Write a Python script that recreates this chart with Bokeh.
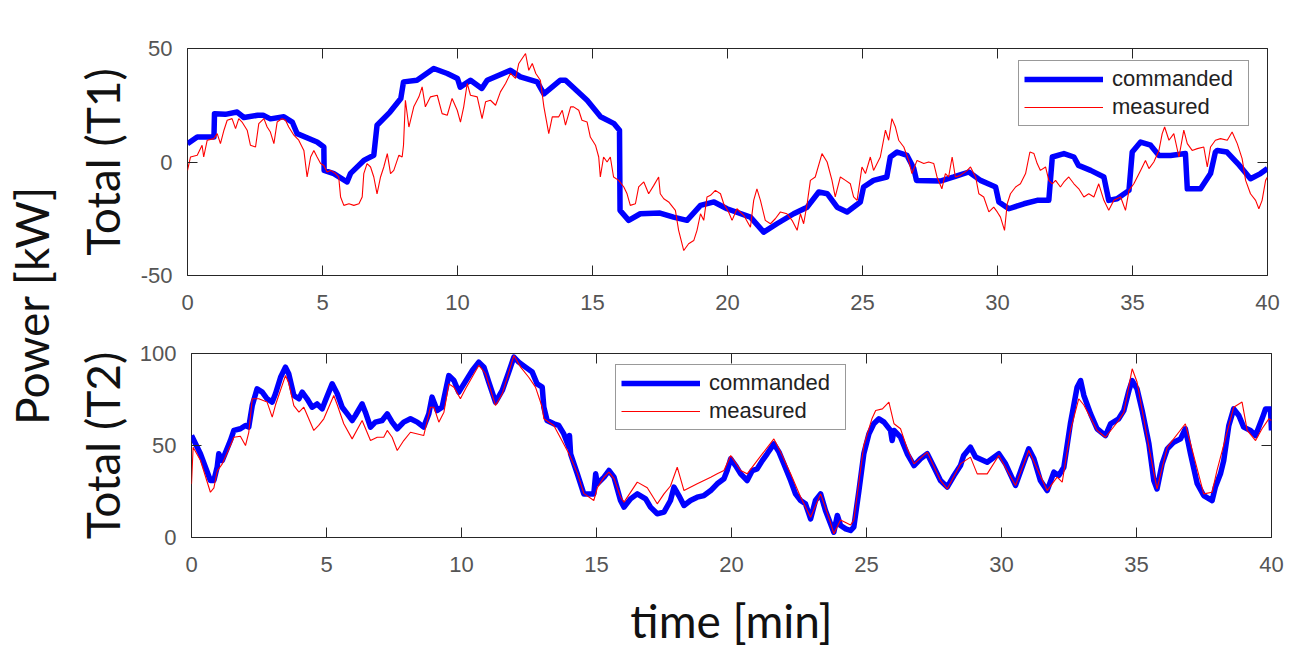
import math
from bokeh.plotting import figure
from bokeh.layouts import row, column
from bokeh.models import Range1d, LinearAxis, FixedTicker, Legend, LegendItem, Label
from bokeh.embed import file_html
from bokeh.resources import INLINE

# ---------------- data ----------------
x_ticks = [0, 5, 10, 15, 20, 25, 30, 35, 40]
t1_ticks = [-50, 0, 50]
t2_ticks = [0, 50, 100]
series_names = ["commanded", "measured"]

t1_cmd_t = [0, 0.36, 0.98, 1.0, 1.4, 1.84, 2.09, 2.6, 2.8, 3.07, 3.57, 3.88, 4.06, 4.8, 5.05, 5.06,
            5.42, 5.91, 6.04, 6.53, 6.9, 7.02, 7.5, 7.9, 8.0, 8.5, 9.12, 9.62, 10.0, 10.1, 10.48,
            10.9, 11.1, 11.96, 12.33, 12.95, 13.2, 13.8, 14.0, 14.8, 15.3, 15.8, 16.0, 16.02, 16.34,
            16.77, 17.5, 18.0, 18.5, 19.0, 19.5, 19.98, 20.85, 21.34, 21.83, 22.45, 22.95, 23.38,
            23.7, 24.06, 24.43, 24.92, 25.04, 25.41, 25.9, 26.03, 26.28, 26.65, 26.9, 27.0, 27.88,
            28.38, 28.94, 29.37, 29.93, 30.05, 30.42, 30.98, 31.47, 31.9, 32.03, 32.46, 32.83, 33.0,
            33.45, 33.94, 34.12, 34.43, 34.87, 34.99, 35.3, 35.67, 35.98, 36.41, 36.96, 37.03, 37.52,
            37.89, 38.07, 38.14, 38.5, 38.9, 39.37, 39.74, 40.0]
t1_cmd_v = [8.1, 11, 11, 21.3, 21, 22, 19.6, 20.6, 20.6, 19, 19.9, 17.6, 12.5, 8.8, 6.6, -3.7,
            -5.1, -8.8, -5, 0.7, 3, 16.2, 22, 28, 35.3, 36, 41.2, 39, 36.8, 33, 36,
            32.4, 36, 40.4, 37.5, 35.3, 30, 36, 36, 27.2, 19.9, 16.9, 14, -21.3, -25.7,
            -22.8, -22.5, -24.3, -25.7, -19.1, -17.6, -20.6, -24.3, -30.9, -27.2, -22.8, -19.9, -13.2,
            -14, -19.9, -22, -17.6, -11, -8.1, -6.6, 2.2, 4.4, 2.9, -2.9, -8.1, -8.4,
            -6.6, -4.4, -8.1, -11, -17.6, -20.6, -18.4, -16.9, -16.9, 2.2, 3.7, 2.2, -1.5,
            -3.7, -6.6, -16.9, -16.2, -12.5, 4.4, 8.8, 7.4, 2.9, 2.9, 3.7, -11.8, -11.8,
            -5.1, 4.4, 5.1, 4.4, -0.7, -7.4, -5.1, -2.9]

t1_meas_t = [0, 0.11, 0.36, 0.54, 0.6, 0.73, 0.98, 1.1, 1.22, 1.35, 1.47, 1.65, 1.78, 1.9, 2.02,
             2.21, 2.33, 2.52, 2.64, 2.83, 2.95, 3.07, 3.2, 3.32, 3.5, 3.63, 3.75, 3.94, 4.12, 4.31,
             4.43, 4.56, 4.68, 4.8, 4.93, 5.05, 5.17, 5.3, 5.48, 5.6, 5.67, 5.79, 5.98, 6.16, 6.35,
             6.47, 6.53, 6.65, 6.78, 6.9, 7.02, 7.15, 7.27, 7.4, 7.52, 7.64, 7.83, 7.95, 8.0, 8.07,
             8.2, 8.38, 8.57, 8.69, 8.81, 9.0, 9.25, 9.43, 9.62, 9.8, 9.99, 10.11, 10.23, 10.36,
             10.48, 10.73, 10.91, 11.04, 11.22, 11.41, 11.59, 11.78, 11.96, 12.15, 12.27, 12.52,
             12.64, 12.77, 12.9, 13.07, 13.2, 13.38, 13.51, 13.75, 13.88, 14.0, 14.19, 14.3, 14.49,
             14.61, 14.8, 14.92, 15.11, 15.23, 15.29, 15.41, 15.54, 15.66, 15.78, 15.97, 16.16,
             16.28, 16.4, 16.59, 16.71, 16.9, 17.08, 17.27, 17.45, 17.51, 17.64, 17.82, 18.07,
             18.19, 18.38, 18.56, 18.75, 18.87, 19.0, 19.12, 19.24, 19.37, 19.55, 19.74, 19.86,
             20.04, 20.17, 20.35, 20.6, 20.85, 20.97, 21.09, 21.22, 21.4, 21.59, 21.77, 21.96,
             22.2, 22.39, 22.58, 22.7, 22.82, 22.95, 23.07, 23.25, 23.5, 23.69, 23.87, 23.99,
             24.18, 24.37, 24.55, 24.67, 24.8, 24.98, 25.11, 25.29, 25.41, 25.66, 25.85, 25.97,
             26.09, 26.22, 26.34, 26.53, 26.71, 26.83, 27.02, 27.27, 27.45, 27.64, 27.76, 27.94,
             28.07, 28.19, 28.32, 28.44, 28.62, 28.88, 29.0, 29.19, 29.31, 29.49, 29.68, 29.86,
             29.99, 30.11, 30.26, 30.36, 30.48, 30.67, 30.85, 31.04, 31.2, 31.35, 31.47, 31.59,
             31.78, 31.9, 32.03, 32.15, 32.33, 32.46, 32.64, 32.83, 33.01, 33.2, 33.38, 33.57,
             33.75, 33.94, 34.12, 34.31, 34.56, 34.74, 34.87, 35.05, 35.3, 35.48, 35.61, 35.79,
             35.98, 36.1, 36.19, 36.35, 36.53, 36.72, 36.9, 37.03, 37.21, 37.4, 37.64, 37.77,
             37.89, 38.07, 38.26, 38.51, 38.69, 38.88, 39.06, 39.19, 39.37, 39.56, 39.68, 39.8,
             39.93, 40.0]
t1_meas_v = [-3.7, 2.2, 3, 7.4, 2.2, 9.6, 10.3, 12.5, 8.1, 14, 18.4, 19.1, 14.7, 19.1, 17.6,
             14, 7.4, 6.6, 16.9, 19.1, 15.4, 13.2, 8.1, 17.6, 19.1, 18.4, 15.4, 11.8, 9.6, 5.1,
             -6.6, 2.2, 5.1, 2.2, -0.7, -1.5, -4.4, -3.7, -5.1, -6.6, -15.4, -19.1, -18.4, -19.1, -18.4,
             -15.4, -5.1, -0.7, -2.2, -6.6, -14, -6.6, -2.2, 3.7, -5.1, -3.7, 3, 2.2, 7.4, 27.2,
             15.4, 24.3, 28.7, 33.1, 24.3, 28.7, 29.4, 21.3, 20.6, 28, 22.8, 17.6, 24.3, 34.6,
             29.4, 28.7, 19.1, 26.5, 27.2, 25, 30.9, 34.6, 39, 36.8, 43.4, 47.8,
             40.4, 43.4, 39, 36, 24.3, 12.5, 19.9, 19.9, 22.8, 16.2, 24.3, 24.3, 22.8,
             18.4, 17.6, 11, 7.4, 2.2, -6.6, 2.2, 0, 2.2, -6.6, -8.1, -11,
             -14, -19.1, -18.4, -11, -8.8, -14, -10.3, -6.6, -14, -16.2, -17.6, -21.3,
             -30.1, -39, -36, -34.6, -30.1, -22.8, -25.7, -15.4, -14.7, -12.5, -14, -18.4,
             -22, -25.7, -20.6, -23.5, -28.7, -16.9, -11.8, -16.9, -25.7, -27.2, -25, -22,
             -22.8, -25.7, -30.1, -22.8, -27.2, -18.4, -8.1, -6.6, 3.7, 0, -8.1, -15.4,
             -6.6, -8.1, -9.6, -15.4, -16.9, -2.2, -5.1, 2.2, -3.7, 2.2, 14, 9.6,
             19.1, 15.4, 9.6, 6.6, 0.7, -5.1, 0.7, -0.7, 0, -0.7, -6.6, -11.8,
             -5.1, -6.6, 2.2, -6.6, -5.9, -3.7, -2.2, -6.6, -14, -15.4, -22, -19.9,
             -22, -24.3, -30.1, -18.4, -14, -11, -9.6, -5.1, 4.4, 3.7, -0.7, -3.7,
             -2.2, -8.1, -9.6, -8.1, -11, -8.8, -6.6, -9.6, -11.8, -15.4, -14, -15.4,
             -9.6, -16.9, -21.3, -16.9, -15.4, -21.3, -12.5, -9.6, -3.7, 0.7, -2.9, 0,
             5.1, 12.5, 15.4, 9.6, 12.5, 2.2, 14, 8.1, 5.1, 5.9, 6.6, -2.2,
             6.6, 9.6, 10.3, 9.6, 13.2, 8.1, 1.5, -8.1, -14, -16.9, -20.6, -16.9,
             -8.1, -6.6]

t2_cmd_t = [0, 0.33, 0.7, 0.83, 0.95, 1.01, 1.14, 1.44, 1.57, 1.81, 2.0, 2.12, 2.25, 2.43, 2.62,
            2.8, 2.99, 3.11, 3.3, 3.48, 3.6, 3.79, 3.98, 4.1, 4.28, 4.47, 4.65, 4.84, 4.96, 5.21,
            5.4, 5.58, 5.77, 5.95, 6.07, 6.32, 6.44, 6.63, 6.81, 7.06, 7.25, 7.43, 7.62, 7.86,
            8.11, 8.36, 8.6, 8.79, 8.91, 9.1, 9.28, 9.53, 9.72, 9.9, 10.09, 10.4, 10.64, 10.83,
            11.01, 11.26, 11.51, 11.75, 11.94, 12.12, 12.37, 12.62, 12.8, 12.99, 13.05, 13.17,
            13.42, 13.6, 13.79, 13.98, 14.0, 14.04, 14.29, 14.53, 14.9, 14.97, 15.03, 15.28,
            15.46, 15.65, 15.89, 16.02, 16.26, 16.51, 16.82, 17.0, 17.25, 17.5, 17.74, 17.87,
            18.05, 18.24, 18.48, 18.73, 18.98, 19.23, 19.47, 19.72, 19.84, 19.97, 20.15, 20.34,
            20.58, 20.77, 20.95, 21.14, 21.32, 21.57, 21.76, 21.94, 22.19, 22.37, 22.56, 22.74,
            22.93, 23.11, 23.3, 23.48, 23.67, 23.79, 23.92, 24.04, 24.23, 24.41, 24.53, 24.72,
            24.9, 25.09, 25.27, 25.46, 25.65, 25.89, 25.95, 26.02, 26.26, 26.51, 26.76, 27.0,
            27.25, 27.5, 27.74, 27.99, 28.24, 28.48, 28.6, 28.85, 29.04, 29.47, 29.9, 30.15,
            30.52, 30.76, 31.01, 31.2, 31.44, 31.69, 31.94, 32.12, 32.31, 32.55, 32.8, 32.93,
            33.05, 33.3, 33.54, 33.85, 34.04, 34.34, 34.53, 34.72, 34.84, 35.02, 35.21, 35.46,
            35.64, 35.76, 35.95, 36.14, 36.38, 36.63, 36.81, 37.0, 37.25, 37.49, 37.8, 37.92,
            38.11, 38.23, 38.42, 38.6, 38.79, 38.97, 39.22, 39.41, 39.65, 39.78, 39.96, 40.0]
t2_cmd_v = [55.4, 45.5, 31, 31, 38.2, 45.5, 41.8, 52.7, 58.2, 59.1, 60.9, 60, 71.7, 80.8, 79,
            75.4, 73.6, 78.1, 87.1, 92.6, 89, 77.2, 75.4, 79, 75.4, 70.8, 72.6, 69.9, 74.5, 83.5,
            78.1, 70.8, 67.2, 63.6, 66.3, 72.6, 68.1, 60, 62.7, 63.6, 67.2, 62.7, 59.1, 62.7,
            64.5, 62.7, 60, 67.2, 76.3, 69, 70.8, 88, 85.3, 79, 83.5, 90.8, 95.3, 92.6,
            84.4, 73.6, 79.9, 89.9, 98, 95.3, 92.6, 89.9, 83.5, 81.7, 70.8, 63.6,
            61.8, 60.9, 56.3, 49.1, 55.4, 45.5, 34.6, 23.7, 23.7, 34.6, 29.2, 32.8,
            36.4, 32.8, 20.1, 16.5, 21, 23.7, 21, 16.5, 12.9, 13.8, 20.1, 27.4,
            22.8, 17.4, 20.1, 21.9, 22.8, 25.5, 29.2, 31.9, 36.4, 42.8, 39.1, 34.6,
            31, 36.4, 37.3, 41.8, 45.5, 50.9, 46.4, 40, 31, 23.7, 20.1, 18.3,
            10.1, 20.1, 23.7, 14.7, 7.4, 2.9, 12, 6.5, 4.7, 3.8, 5.6, 25.5,
            45.5, 56.3, 61.8, 64.5, 62.7, 58.2, 52.7, 58.2, 54.5, 45.5, 39.1, 42.8,
            45.5, 38.2, 31, 27.4, 33.7, 39.1, 44.6, 49.1, 43.7, 40.9, 45.5, 40,
            28.3, 38.2, 48.2, 42.8, 31, 25.5, 35.5, 33.7, 38.2, 61.8, 81.7, 85.3,
            77.2, 67.2, 59.1, 55.4, 61.8, 64.5, 69, 79.9, 85.3, 80.8, 69, 50.9,
            31, 26.4, 40, 48.2, 51.8, 53.6, 59.1, 45.5, 29.2, 22.8, 20.1, 27.4,
            34.6, 41.8, 60.9, 69.9, 66.3, 60, 58.2, 55.4, 64.5, 69.9, 69.9, 58.2]

t2_meas_t = [0, 0.06, 0.33, 0.7, 0.83, 0.95, 1.14, 1.44, 1.57, 1.81, 2.0, 2.12, 2.25, 2.49, 2.8,
             2.99, 3.11, 3.48, 3.6, 3.79, 3.98, 4.16, 4.53, 4.71, 4.9, 5.27, 5.4, 5.64, 5.95, 6.32,
             6.63, 6.88, 7.12, 7.25, 7.43, 7.62, 7.86, 8.11, 8.6, 8.85, 8.98, 9.16, 9.35, 9.53,
             9.72, 9.96, 10.15, 10.64, 10.89, 11.26, 11.51, 11.94, 12.19, 12.49, 12.74, 12.99,
             13.05, 13.42, 13.98, 14.29, 14.53, 14.9, 15.03, 15.28, 15.46, 15.65, 15.89, 16.02,
             16.51, 16.88, 17.25, 17.5, 17.74, 17.99, 18.24, 18.73, 19.23, 19.47, 19.72, 19.97,
             20.34, 20.58, 20.95, 21.57, 21.82, 22.19, 22.56, 22.93, 23.3, 23.67, 23.79, 24.04,
             24.41, 24.53, 24.9, 25.2, 25.34, 25.59, 25.83, 26.02, 26.26, 26.51, 26.76, 27.25,
             27.74, 27.99, 28.48, 28.85, 29.1, 29.47, 29.9, 30.52, 31.01, 31.69, 32.06, 32.25,
             32.55, 32.86, 33.05, 33.54, 33.85, 34.34, 34.53, 34.84, 35.02, 35.46, 35.76, 36.14,
             36.81, 37.49, 37.8, 37.98, 38.6, 38.91, 39.1, 39.41, 39.65, 39.9, 40.0]
t2_meas_v = [29, 49, 42, 24.6, 27, 36, 40, 50, 54.5, 55, 50, 57, 75.4, 75.4, 73.6,
             65.4, 72, 88, 84, 71.7, 68.1, 70.8, 58.2, 60.9, 64.5, 77.2, 72, 61.8, 53.6, 63.6,
             52.7, 54.5, 54.5, 58.2, 54.5, 47.3, 52.7, 57.2, 55.4, 70.8, 70.8, 62.7, 68.1, 83.5,
             81.7, 75.4, 80.8, 93.5, 89, 71.7, 78.1, 98.9, 92.6, 87.1, 81.7, 70.8,
             64.5, 60.9, 45.5, 35, 24, 20.1, 27, 32.8, 35.5, 32, 22, 19.2,
             30.1, 27, 18.3, 23.7, 28, 38.2, 25.5, 29.2, 32.8, 34.6, 36.4, 44.6,
             36.4, 34.6, 41.8, 53.6, 46.4, 34.6, 22, 11, 23.7, 8, 2, 9.5,
             6.8, 9.5, 50, 64.5, 69, 69.9, 73.6, 61.8, 59.1, 48.2, 40, 46.4,
             31, 26.4, 40, 43.7, 34.6, 34.6, 44.6, 28.3, 47.3, 25.5, 32.8, 30.1,
             57.9, 75.4, 72, 58.2, 54.5, 63.6, 68, 91.7, 84.5, 49.1, 26.4, 49.1,
             61.8, 23.7, 24.6, 36.4, 70.8, 73.6, 58.2, 52.7, 59.1, 64.5, 63.6]

# ---------------- style ----------------
BLUE = "#0000ff"
RED = "#ff0000"
AX = "#262626"
TICK_TXT = "#555555"
TICK_FONT = "Liberation Sans"
TICK_SIZE = "22px"
BIG_FONT = "Lato"
BIG_SIZE = "46px"


def style_axes(p, yticks, ylabel, ylabel_standoff, xlabel=None):
    for ax in (p.xaxis[0], p.yaxis[0]):
        ax.axis_line_color = None
        ax.major_tick_line_color = AX
        ax.major_tick_in = 10
        ax.major_tick_out = 0
        ax.minor_tick_line_color = None
        ax.major_label_text_font = TICK_FONT
        ax.major_label_text_font_size = TICK_SIZE
        ax.major_label_text_color = TICK_TXT
        ax.axis_label_text_font = BIG_FONT
        ax.axis_label_text_font_size = BIG_SIZE
        ax.axis_label_text_font_style = "normal"
        ax.axis_label_text_color = "#111111"
    p.xaxis[0].ticker = FixedTicker(ticks=x_ticks)
    p.yaxis[0].ticker = FixedTicker(ticks=yticks)
    p.yaxis[0].major_label_overrides = {v: ("-%d" % abs(v) if v < 0 else "%d" % v) for v in yticks}
    p.yaxis[0].major_label_standoff = 15
    p.xaxis[0].major_label_standoff = 19
    p.yaxis[0].axis_label = ylabel
    p.yaxis[0].axis_label_standoff = ylabel_standoff
    if xlabel:
        p.xaxis[0].axis_label = xlabel
        p.xaxis[0].axis_label_standoff = 18
    # mirrored ticks (box on)
    r = LinearAxis(ticker=FixedTicker(ticks=yticks), major_label_text_color=None,
                   major_label_text_font_size="1px", major_label_standoff=0,
                   axis_line_color=None, major_tick_in=10, major_tick_out=0,
                   major_tick_line_color=AX, minor_tick_line_color=None)
    t = LinearAxis(ticker=FixedTicker(ticks=x_ticks), major_label_text_color=None,
                   major_label_text_font_size="1px", major_label_standoff=0,
                   axis_line_color=None, major_tick_in=10, major_tick_out=0,
                   major_tick_line_color=AX, minor_tick_line_color=None)
    p.add_layout(r, "right")
    p.add_layout(t, "above")
    p.xgrid.visible = False
    p.ygrid.visible = False
    p.outline_line_color = AX
    p.outline_line_width = 1
    p.outline_line_alpha = 1


def make_legend(p, rc, rm, loc):
    leg = Legend(items=[LegendItem(label=series_names[0], renderers=[rc]),
                        LegendItem(label=series_names[1], renderers=[rm])],
                 location=loc, glyph_width=79, glyph_height=18, label_height=18,
                 label_width=131, padding=5, spacing=2, label_standoff=9, margin=0,
                 border_line_color="#333333", border_line_width=1,
                 background_fill_color="white", background_fill_alpha=1,
                 label_text_font=TICK_FONT, label_text_font_size=TICK_SIZE,
                 label_text_color="#222222")
    p.add_layout(leg, "center")


LEFT_W = 62
FIG_W = 1228

# ---------- top panel ----------
p1 = figure(width=FIG_W, height=325, output_backend="svg", toolbar_location=None,
            x_range=Range1d(0, 40), y_range=Range1d(-50, 50),
            min_border_left=187 - LEFT_W, min_border_right=23,
            min_border_top=48, min_border_bottom=50)
p1.frame_align = False
p1.background_fill_color = "white"
p1.border_fill_color = "white"
rc1 = p1.line(t1_cmd_t, t1_cmd_v, line_color=BLUE, line_width=5.5, line_join="round")
rm1 = p1.line(t1_meas_t, t1_meas_v, line_color=RED, line_width=1.1)
style_axes(p1, t1_ticks, "Total (T1)", 8)
make_legend(p1, rc1, rm1, (831, 149))

# ---------- bottom panel ----------
p2 = figure(width=FIG_W, height=330, output_backend="svg", toolbar_location=None,
            x_range=Range1d(0, 40), y_range=Range1d(0, 100),
            min_border_left=191 - LEFT_W, min_border_right=19,
            min_border_top=28, min_border_bottom=118)
p2.frame_align = False
p2.background_fill_color = "white"
p2.border_fill_color = "white"
rc2 = p2.line(t2_cmd_t, t2_cmd_v, line_color=BLUE, line_width=5.5, line_join="round")
rm2 = p2.line(t2_meas_t, t2_meas_v, line_color=RED, line_width=1.1)
style_axes(p2, t2_ticks, "Total (T2)", 7, "time [min]")
make_legend(p2, rc2, rm2, (424, 107))

# ---------- shared y label ----------
TOTAL_H = 325 + 330
p0 = figure(width=LEFT_W, height=TOTAL_H, output_backend="svg", toolbar_location=None,
            x_range=Range1d(0, 1), y_range=Range1d(0, 1),
            min_border_left=0, min_border_right=0, min_border_top=0, min_border_bottom=0)
p0.frame_align = False
p0.axis.visible = False
p0.grid.visible = False
p0.outline_line_color = None
p0.border_fill_color = "white"
p0.add_layout(Label(x=31, y=TOTAL_H - 305, x_units="screen", y_units="screen",
                    text="Power [kW]", angle=math.pi / 2, text_align="center",
                    text_baseline="middle", text_font=BIG_FONT, text_font_size=BIG_SIZE,
                    text_color="#111111"))

layout = row(p0, column(p1, p2))
open("out.html", "w").write(file_html(layout, INLINE))
